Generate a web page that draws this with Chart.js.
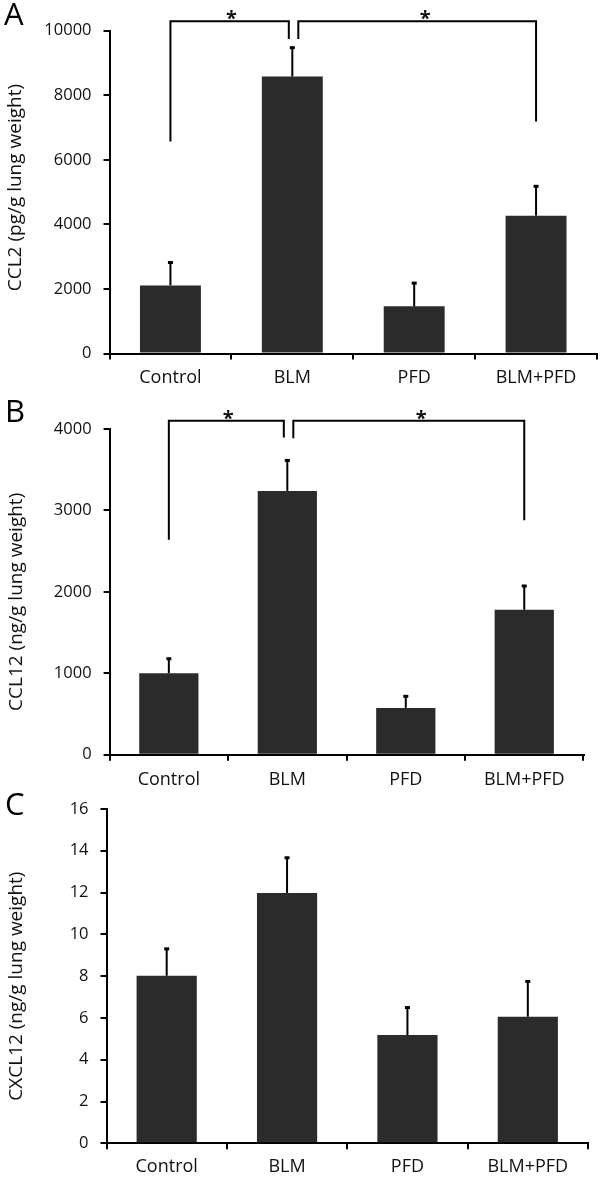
<!DOCTYPE html>
<html><head><meta charset="utf-8">
<script src="https://cdn.jsdelivr.net/npm/chart.js@4.4.0/dist/chart.umd.min.js"></script>
<style>
html,body{margin:0;padding:0;background:#fff;}
body{width:600px;height:1177px;position:relative;overflow:hidden;}
.p{position:absolute;left:0;width:600px;}
</style></head><body>
<div class="p" style="top:0;height:395px"><canvas id="cA"></canvas></div>
<div class="p" style="top:385px;height:410px"><canvas id="cB"></canvas></div>
<div class="p" style="top:780px;height:397px"><canvas id="cC"></canvas></div>
<script>
// ---- data ----
const categories = ['Control', 'BLM', 'PFD', 'BLM+PFD'];

const ccl2Means  = [2110, 8580, 1460, 4270];
const ccl2Errors = [725, 910, 735, 925];
const ccl2Ticks  = [0, 10000, 2000];           // min, max, step
const ccl2Brackets = [
  {from: 0, to: 1, fromEnd: 6570, top: 10290, toEnd: 9740, star: 0.5},
  {from: 1, to: 3, fromEnd: 9740, top: 10290, toEnd: 7190, star: 2.09}
];

const ccl12Means  = [1000, 3240, 575, 1780];
const ccl12Errors = [185, 380, 148, 298];
const ccl12Ticks  = [0, 4000, 1000];
const ccl12Brackets = [
  {from: 0, to: 1, fromEnd: 2640, top: 4100, toEnd: 3895, star: 0.5},
  {from: 1, to: 3, fromEnd: 3885, top: 4100, toEnd: 2880, star: 2.13}
];

const cxcl12Means  = [8.02, 11.98, 5.18, 6.06];
const cxcl12Errors = [1.31, 1.71, 1.34, 1.71];
const cxcl12Ticks  = [0, 16, 2];
const cxcl12Brackets = [];

const FONT = '"Open Sans", "DejaVu Sans", sans-serif';
const INK = '#111';

const extras = {
  id: 'extras',
  afterDatasetsDraw(chart, args, o) {
    const ctx = chart.ctx, xs = chart.scales.x, ys = chart.scales.y;
    const meta = chart.getDatasetMeta(0);
    const area = chart.chartArea;
    ctx.save();
    ctx.strokeStyle = '#000';
    ctx.fillStyle = INK;
    ctx.lineWidth = 2;
    ctx.lineJoin = 'miter';
    ctx.lineCap = 'butt';
    // error bars (upper only)
    o.means.forEach((m, i) => {
      const bx = meta.data[i].x;
      const y0 = ys.getPixelForValue(m);
      const y1 = ys.getPixelForValue(m + o.errors[i]);
      ctx.lineWidth = 2;
      ctx.beginPath();
      ctx.moveTo(bx, y0); ctx.lineTo(bx, y1);
      ctx.stroke();
      ctx.lineWidth = 3;
      ctx.beginPath();
      ctx.moveTo(bx - 2.5, y1 + 0.5); ctx.lineTo(bx + 2.5, y1 + 0.5);
      ctx.stroke();
    });
    ctx.lineWidth = 2;
    // significance brackets
    const br = o.brackets || [];
    const shared = k => br.filter(c => c.from === k || c.to === k).length > 1;
    br.forEach(b => {
      const xa = xs.getPixelForValue(b.from) + (shared(b.from) ? 6 : 0);
      const xb = xs.getPixelForValue(b.to) + (shared(b.to) ? -3.5 : 0);
      const yt = ys.getPixelForValue(b.top);
      ctx.beginPath();
      ctx.moveTo(xa, ys.getPixelForValue(b.fromEnd));
      ctx.lineTo(xa, yt);
      ctx.lineTo(xb, yt);
      ctx.lineTo(xb, ys.getPixelForValue(b.toEnd));
      ctx.stroke();
      ctx.font = 'bold 20px ' + FONT;
      ctx.textAlign = 'center';
      ctx.textBaseline = 'alphabetic';
      ctx.fillText('*', xs.getPixelForValue(b.star), yt + 4);
    });
    // y-axis title
    ctx.save();
    ctx.translate(o.titleX, (area.top + area.bottom) / 2 + o.titleShift);
    ctx.rotate(-Math.PI / 2);
    ctx.font = '19px ' + FONT;
    ctx.textAlign = 'center';
    ctx.textBaseline = 'middle';
    ctx.fillStyle = INK;
    ctx.fillText(o.title, 0, 0);
    ctx.restore();
    // panel letter
    ctx.font = '31px ' + FONT;
    ctx.textAlign = 'left';
    ctx.textBaseline = 'alphabetic';
    ctx.fillStyle = '#000';
    ctx.fillText(o.letter, o.letterX, o.letterY);
    ctx.restore();
  }
};

function makeChart(id, c) {
  return new Chart(document.getElementById(id), {
    type: 'bar',
    data: {
      labels: categories,
      datasets: [{
        data: c.means,
        backgroundColor: '#2b2b2b',
        borderWidth: 0,
        categoryPercentage: 1,
        barPercentage: 0.5
      }]
    },
    options: {
      responsive: true,
      maintainAspectRatio: false,
      animation: false,
      events: [],
      layout: {padding: {left: 0, right: c.padRight, top: c.padTop, bottom: 0}},
      plugins: {
        legend: {display: false},
        tooltip: {enabled: false},
        extras: {means: c.means, errors: c.errors, brackets: c.brackets, letter: c.letter,
                 letterX: c.letterX, letterY: c.letterY, title: c.title, titleX: c.titleX, titleShift: c.titleShift}
      },
      scales: {
        x: {
          grid: {display: true, offset: true, drawOnChartArea: false, drawTicks: true, tickLength: 6, color: '#000', lineWidth: 2},
          border: {display: true, color: '#000', width: 2},
          ticks: {color: INK, font: {family: FONT, size: 18}, padding: c.xPad, maxRotation: 0},
          afterFit(s) { s.height = c.xHeight; }
        },
        y: {
          min: c.ticks[0], max: c.ticks[1],
          ticks: {stepSize: c.ticks[2], color: INK, font: {family: FONT, size: 16.5}, padding: 12,
                  callback: v => String(v)},
          grid: {display: true, drawOnChartArea: false, drawTicks: true, tickLength: 6, color: '#000', lineWidth: 2},
          border: {display: true, color: '#000', width: 2},
          title: {display: false},
          afterFit(s) { s.width = c.yWidth; }
        }
      }
    },
    plugins: [extras]
  });
}

makeChart('cA', {means: ccl2Means, errors: ccl2Errors, ticks: ccl2Ticks, brackets: ccl2Brackets,
  title: 'CCL2 (pg/g lung weight)', titleX: 16, titleShift: -4.5, letter: 'A', letterX: 4, letterY: 25,
  padTop: 30.7, padRight: 3, xHeight: 41.5, yWidth: 109.5, xPad: 7.5});
makeChart('cB', {means: ccl12Means, errors: ccl12Errors, ticks: ccl12Ticks, brackets: ccl12Brackets,
  title: 'CCL12 (ng/g lung weight)', titleX: 17, titleShift: 10, letter: 'B', letterX: 5, letterY: 37,
  padTop: 44, padRight: 16.5, xHeight: 40.3, yWidth: 109.6, xPad: 8.5});
makeChart('cC', {means: cxcl12Means, errors: cxcl12Errors, ticks: cxcl12Ticks, brackets: cxcl12Brackets,
  title: 'CXCL12 (ng/g lung weight)', titleX: 17, titleShift: 10, letter: 'C', letterX: 5, letterY: 35,
  padTop: 29, padRight: 12, xHeight: 33.7, yWidth: 106.5, xPad: 6.6});
</script>
</body></html>
